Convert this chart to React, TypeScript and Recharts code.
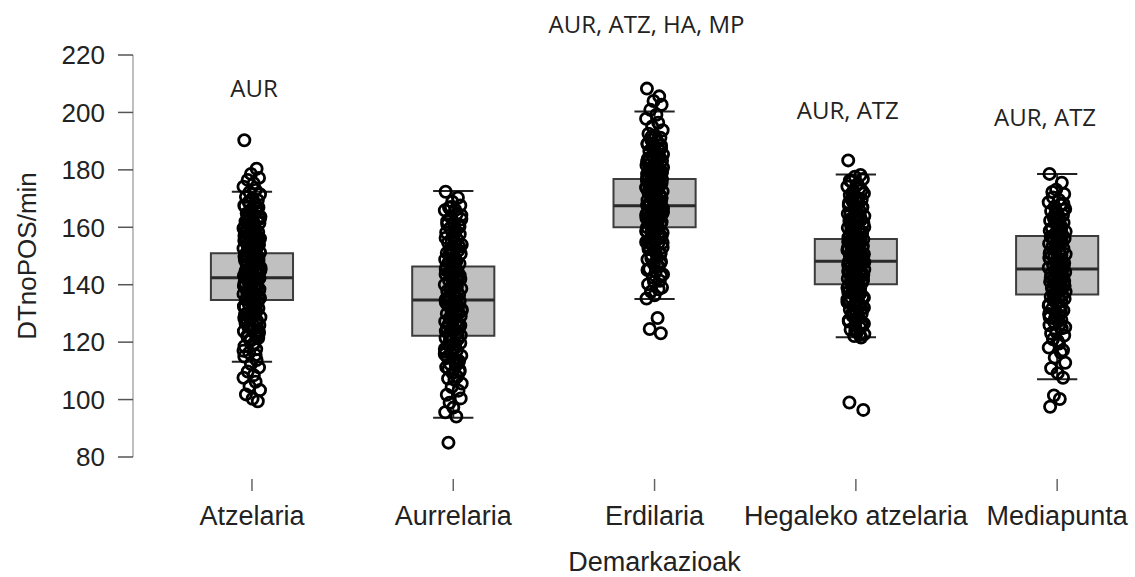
import React from "react";
import { ScatterChart, Scatter, XAxis, YAxis, ReferenceArea, ReferenceLine, ReferenceDot } from "recharts";

const categories = ["Atzelaria", "Aurrelaria", "Erdilaria", "Hegaleko atzelaria", "Mediapunta"];
const yTicks = [80, 100, 120, 140, 160, 180, 200, 220];

// box statistics per position
const q1 = [134.7, 122.2, 160.0, 140.2, 136.6];
const medians = [142.4, 134.7, 167.5, 148.2, 145.5];
const q3 = [151.0, 146.3, 176.8, 155.9, 157.0];
const whiskerLow = [113.2, 93.7, 135.0, 121.7, 107.1];
const whiskerHigh = [172.4, 172.6, 200.3, 178.4, 178.6];

// individual players
const atzelaria = [
  190.3, 180.4, 178.6, 177.2, 176.5, 175.3, 174.1, 173.0, 172.2, 171.5, 170.6, 170.1,
  169.4, 168.8, 168.1, 167.3, 166.9, 166.2, 165.5, 164.8, 164.3, 163.7, 163.1, 162.6,
  162.0, 161.5, 160.9, 160.4, 159.8, 159.3, 158.9, 158.4, 157.8, 157.3, 156.9, 156.4,
  155.8, 155.3, 154.9, 154.5, 153.9, 153.4, 153.0, 152.6, 152.1, 151.7, 151.2, 150.8,
  150.3, 149.9, 149.5, 149.0, 148.6, 148.2, 147.7, 147.3, 146.9, 146.4, 146.0, 145.6,
  145.2, 144.8, 144.4, 144.0, 143.6, 143.1, 142.7, 142.4, 142.0, 141.6, 141.1, 140.7,
  140.3, 139.9, 139.4, 139.0, 138.6, 138.1, 137.7, 137.2, 136.8, 136.3, 135.9, 135.4,
  134.9, 134.4, 133.9, 133.3, 132.8, 132.2, 131.7, 131.1, 130.5, 129.9, 129.3, 128.7,
  128.0, 127.4, 126.7, 126.0, 125.3, 124.6, 123.8, 123.0, 122.2, 121.4, 120.5, 119.6,
  118.6, 117.5, 116.3, 115.0, 113.8, 112.4, 111.2, 109.8, 108.5, 107.6, 106.2, 104.6,
  103.3, 101.8, 100.3, 99.4,
  164.1, 161.2, 158.1, 155.6, 152.9, 150.5, 148.4, 146.7, 145.0, 143.4, 141.8, 140.1,
  138.4, 136.6, 134.7, 132.5, 130.1, 127.7, 124.2, 120.9, 157.0, 149.7, 143.9, 137.9,
  167.6, 166.5, 165.2, 163.4, 162.3, 160.6, 159.6, 158.6, 157.6, 156.1, 155.0, 154.2,
  153.6, 152.3, 151.4, 150.1, 149.3, 148.8, 147.9, 147.1, 146.2, 145.4, 144.6, 143.8,
  142.9, 142.2, 141.3, 140.5, 139.6, 138.8, 137.5, 136.1, 135.1, 133.6, 132.0, 130.8,
  129.1, 128.3, 126.3, 125.0, 123.4, 121.8, 119.1, 117.0, 115.5, 168.4, 163.0, 159.0,
  154.0, 147.4, 141.4, 135.6, 129.6, 122.6,
];
const aurrelaria = [
  172.4, 170.3, 168.9, 167.6, 166.8, 166.1, 165.9, 164.7, 163.5, 162.8, 162.1, 161.6,
  160.9, 159.7, 158.8, 158.2, 157.6, 156.9, 155.8, 154.7, 154.2, 153.9, 152.8, 152.0,
  151.1, 150.8, 150.3, 149.6, 148.8, 148.0, 147.7, 147.3, 146.6, 145.8, 145.1, 144.9,
  144.4, 143.6, 142.9, 142.2, 141.9, 141.4, 140.7, 140.0, 139.3, 139.0, 138.6, 137.8,
  137.1, 136.4, 136.0, 135.7, 135.0, 134.3, 133.5, 133.1, 132.8, 132.1, 131.4, 130.6,
  130.2, 129.9, 129.1, 128.4, 127.6, 127.2, 126.9, 126.1, 125.4, 124.6, 124.2, 123.8,
  123.0, 122.2, 121.4, 121.0, 120.6, 119.7, 118.9, 118.0, 117.6, 117.1, 116.2, 115.3,
  114.8, 114.3, 113.4, 112.4, 111.8, 111.3, 110.3, 109.2, 108.0, 107.3, 106.9, 105.6,
  104.4, 103.1, 101.7, 100.4, 98.9, 97.2, 95.6, 94.1, 85.0,
  160.2, 155.2, 149.2, 145.4, 141.1, 138.2, 134.7, 131.8, 128.8, 125.8, 122.6, 119.2,
  115.8, 112.9,
  167.1, 164.2, 161.1, 157.1, 153.3, 151.6, 148.4, 146.2, 143.2, 140.4, 137.4, 135.4,
  132.5, 130.9, 127.9, 126.5, 124.9, 122.4, 120.2, 117.9, 116.7, 113.9, 110.7, 109.7,
  143.9, 139.7, 133.8, 129.5, 152.4, 156.3,
];
const erdilaria = [
  208.3, 205.6, 204.0, 202.7, 200.9, 199.2, 197.8, 196.4, 195.1, 193.8, 192.6, 191.9,
  191.2, 190.4, 189.8, 189.1, 188.5, 187.8, 187.2, 186.6, 186.1, 185.4, 184.8, 184.3,
  183.7, 183.2, 182.6, 182.1, 181.5, 181.0, 180.6, 180.0, 179.4, 178.9, 178.5, 177.9,
  177.4, 176.9, 176.5, 175.9, 175.4, 174.9, 174.5, 173.9, 173.4, 172.9, 172.5, 171.9,
  171.4, 170.9, 170.5, 169.9, 169.4, 168.9, 168.5, 167.9, 167.5, 167.0, 166.6, 166.0,
  165.5, 165.1, 164.6, 164.0, 163.5, 163.1, 162.6, 162.0, 161.5, 161.1, 160.6, 160.0,
  159.5, 158.9, 158.4, 157.8, 157.3, 156.7, 156.1, 155.5, 154.9, 154.3, 153.7, 153.0,
  152.4, 151.7, 151.0, 150.3, 149.6, 148.8, 148.0, 147.2, 146.4, 145.5, 144.6, 143.6,
  142.5, 141.4, 140.2, 139.0, 137.6, 136.3, 135.2, 128.4, 124.6, 123.1,
  188.2, 185.1, 182.9, 180.3, 178.2, 176.2, 174.2, 172.2, 170.2, 168.2, 166.3, 164.3,
  162.3, 160.3, 158.1, 155.2, 151.4, 147.6,
  191.5, 190.1, 188.9, 187.5, 186.3, 184.5, 183.4, 181.8, 180.8, 179.7, 178.7, 177.6,
  176.7, 175.6, 174.7, 173.6, 172.7, 171.6, 170.7, 169.6, 168.7, 167.7, 166.8, 165.8,
  164.8, 163.8, 162.8, 161.8, 160.8, 159.8, 158.7, 157.5, 156.4, 154.6, 153.4, 152.1,
  150.6, 149.1, 146.8, 145.1, 143.1, 141.0, 138.4, 173.1, 169.1, 165.3, 161.3, 157.0,
  184.0, 179.1,
];
const hegaleko = [
  183.3, 178.2, 177.6, 176.8, 175.9, 175.1, 174.2, 173.6, 172.7, 171.8, 171.2, 170.3,
  169.6, 168.9, 168.2, 167.6, 166.9, 166.3, 165.7, 165.0, 164.4, 163.9, 163.2, 162.6,
  162.1, 161.4, 160.9, 160.3, 159.8, 159.2, 158.7, 158.1, 157.6, 157.1, 156.5, 156.0,
  155.5, 155.0, 154.5, 154.0, 153.5, 153.1, 152.6, 152.1, 151.6, 151.2, 150.7, 150.2,
  149.8, 149.3, 148.9, 148.4, 148.0, 147.5, 147.1, 146.6, 146.2, 145.7, 145.3, 144.8,
  144.4, 143.9, 143.5, 143.0, 142.6, 142.1, 141.6, 141.2, 140.7, 140.2, 139.7, 139.2,
  138.6, 138.1, 137.5, 137.0, 136.4, 135.8, 135.2, 134.6, 134.0, 133.3, 132.7, 132.0,
  131.3, 130.6, 129.9, 129.1, 128.4, 127.6, 126.8, 126.0, 125.2, 124.3, 123.5, 122.8,
  122.1, 121.6, 99.0, 96.4,
  170.0, 167.3, 164.7, 162.4, 160.6, 158.4, 156.3, 154.3, 152.4, 150.5, 148.7, 146.9,
  145.0, 143.2, 141.4, 139.5, 137.3, 134.9, 132.3, 129.5, 126.4,
  176.3, 174.6, 172.9, 171.5, 169.9, 168.5, 167.0, 165.4, 164.1, 162.8, 161.7, 160.1,
  159.0, 157.9, 156.8, 155.8, 154.8, 153.8, 152.8, 151.9, 150.9, 150.0, 149.1, 148.2,
  147.3, 146.4, 145.5, 144.6, 143.7, 142.8, 141.9, 140.9, 139.9, 138.9, 137.8, 136.7,
  135.5, 134.3, 133.0, 131.6, 130.3, 128.7, 127.2, 125.6, 124.0, 122.5, 155.2, 151.4,
  147.8, 144.1,
];
const mediapunta = [
  178.6, 175.5, 173.1, 171.6, 170.4, 169.5, 168.7, 167.9, 167.2, 166.4, 165.7, 165.0,
  164.3, 163.6, 162.9, 162.3, 161.6, 161.0, 160.3, 159.7, 159.1, 158.5, 157.9, 157.3,
  156.7, 156.1, 155.5, 154.9, 154.3, 153.8, 153.2, 152.6, 152.0, 151.5, 150.9, 150.3,
  149.8, 149.2, 148.7, 148.1, 147.6, 147.0, 146.5, 145.9, 145.4, 144.9, 144.3, 143.8,
  143.2, 142.7, 142.1, 141.6, 141.0, 140.5, 139.9, 139.3, 138.8, 138.2, 137.6, 137.0,
  136.4, 135.8, 135.1, 134.5, 133.8, 133.1, 132.4, 131.7, 131.0, 130.2, 129.4, 128.6,
  127.7, 126.8, 125.9, 124.8, 123.6, 122.3, 121.0, 119.5, 118.1, 116.4, 114.6, 112.8,
  110.9, 109.2, 107.6, 101.4, 100.2, 97.5,
  166.1, 162.6, 159.4, 156.4, 153.5, 150.6, 147.9, 145.2, 142.4, 139.6, 136.7, 133.4,
  129.8, 126.3,
  172.3, 168.2, 164.8, 161.3, 158.8, 155.2, 152.3, 149.5, 146.7, 144.0, 141.3, 138.5,
  135.5, 132.7, 130.6, 128.1, 125.2, 123.0, 120.4, 117.2, 163.1, 157.6, 151.2, 146.1,
  140.8, 134.2,
];
const pointSeries = [atzelaria, aurrelaria, erdilaria, hegaleko, mediapunta];

// fixed horizontal jitter offsets (category units), cycled over the points
const jitter = [
  -0.038, 0.023, -0.005, 0.035, -0.021, 0.009, -0.042, 0.018, -0.012, 0.040, -0.030, 0.003,
  0.029, -0.016, 0.013, -0.035, 0.032, -0.003, 0.020, -0.026, 0.006, 0.042, -0.008, 0.026,
  -0.032, 0.037, -0.018, 0.000, -0.040, 0.015, -0.024, 0.031, -0.008, 0.010, -0.037, 0.021,
  -0.014,
];

// significance notes above the boxes
const noteText = ["AUR", "AUR, ATZ, HA, MP", "AUR, ATZ", "AUR, ATZ"];
const noteX = [1.01, 2.96, 3.96, 4.94];
const noteY = [208.5, 230.8, 200.8, 198.4];

const points = pointSeries.flatMap((vals, c) =>
  vals.map((v, i) => ({ x: c + 1 + jitter[i % jitter.length], y: v }))
);

const BOX_HALF = 0.204;
const CAP_HALF = 0.1;
const axisFont = "'Liberation Sans', Arial, sans-serif";
const noteFont = "'Open Sans', 'Noto Sans', sans-serif";

const Ring = (props: any) => (
  <circle cx={props.cx} cy={props.cy} r={5.6} fill="none" stroke="#000" strokeWidth={2.8} />
);

const XTick = (props: any) => {
  const { x, y, payload } = props;
  return (
    <g>
      <line x1={x} x2={x} y1={y + 22} y2={y + 34} stroke="#666" strokeWidth={1.5} />
      <text x={x} y={y + 68} textAnchor="middle" fontSize={27} fontFamily={axisFont} fill="#222">
        {categories[payload.value - 1]}
      </text>
    </g>
  );
};

const YTitle = (props: any) => {
  const vb = props.viewBox || {};
  const cy = (vb.y ?? 55) + (vb.height ?? 402) / 2;
  return (
    <text x={36} y={cy} transform={`rotate(-90, 36, ${cy})`} textAnchor="middle" fontSize={26} fontFamily={axisFont} fill="#222">
      DTnoPOS/min
    </text>
  );
};

export default function App() {
  return (
    <div style={{ position: "absolute", left: 0, top: 0, background: "#fff" }}>
      <ScatterChart width={1135} height={577} margin={{ top: 55, right: 10, bottom: 0, left: 0 }}>
        <XAxis
          type="number"
          dataKey="x"
          domain={[0.409, 5.337]}
          allowDataOverflow
          ticks={[1, 2, 3, 4, 5]}
          axisLine={false}
          tickLine={false}
          tickSize={0}
          tickMargin={0}
          height={120}
          tick={<XTick />}
          interval={0}
        />
        <YAxis
          type="number"
          dataKey="y"
          domain={[80, 220]}
          ticks={yTicks}
          width={133}
          allowDataOverflow
          axisLine={{ stroke: "#aaa", strokeWidth: 1.5 }}
          tickLine={{ stroke: "#555", strokeWidth: 1.5 }}
          tickSize={15}
          tickMargin={13}
          tick={{ fontSize: 26, fill: "#222", fontFamily: axisFont }}
          label={YTitle}
        />
        {categories.map((c, i) => (
          <ReferenceArea
            key={`box-${c}`}
            x1={i + 1 - BOX_HALF}
            x2={i + 1 + BOX_HALF}
            y1={q1[i]}
            y2={q3[i]}
            fill="#c0c0c0"
            fillOpacity={1}
            stroke="#3c3c3c"
            strokeWidth={2}
          />
        ))}
        {categories.map((c, i) => (
          <ReferenceLine
            key={`med-${c}`}
            segment={[{ x: i + 1 - BOX_HALF, y: medians[i] }, { x: i + 1 + BOX_HALF, y: medians[i] }]}
            stroke="#2a2a2a"
            strokeWidth={3}
          />
        ))}
        {categories.map((c, i) => (
          <ReferenceLine
            key={`wu-${c}`}
            segment={[{ x: i + 1, y: q3[i] }, { x: i + 1, y: whiskerHigh[i] }]}
            stroke="#222"
            strokeWidth={2}
          />
        ))}
        {categories.map((c, i) => (
          <ReferenceLine
            key={`wl-${c}`}
            segment={[{ x: i + 1, y: whiskerLow[i] }, { x: i + 1, y: q1[i] }]}
            stroke="#222"
            strokeWidth={2}
          />
        ))}
        <Scatter data={points} shape={Ring} isAnimationActive={false} />
        {categories.map((c, i) => (
          <ReferenceLine
            key={`cap-hi-${c}`}
            segment={[{ x: i + 1 - CAP_HALF, y: whiskerHigh[i] }, { x: i + 1 + CAP_HALF, y: whiskerHigh[i] }]}
            stroke="#222"
            strokeWidth={2}
          />
        ))}
        {categories.map((c, i) => (
          <ReferenceLine
            key={`cap-lo-${c}`}
            segment={[{ x: i + 1 - CAP_HALF, y: whiskerLow[i] }, { x: i + 1 + CAP_HALF, y: whiskerLow[i] }]}
            stroke="#222"
            strokeWidth={2}
          />
        ))}
        {noteText.map((t, i) => (
          <ReferenceDot
            key={`note-${i}`}
            x={noteX[i]}
            y={noteY[i]}
            r={0}
            fill="none"
            stroke="none"
            ifOverflow="visible"
            label={{ value: t, position: "center", fontSize: 24, fill: "#222", fontFamily: noteFont }}
          />
        ))}
        <ReferenceDot
          x={3}
          y={43.6}
          r={0}
          fill="none"
          stroke="none"
          ifOverflow="visible"
          label={{ value: "Demarkazioak", position: "center", fontSize: 27, fill: "#222", fontFamily: axisFont }}
        />
      </ScatterChart>
    </div>
  );
}
